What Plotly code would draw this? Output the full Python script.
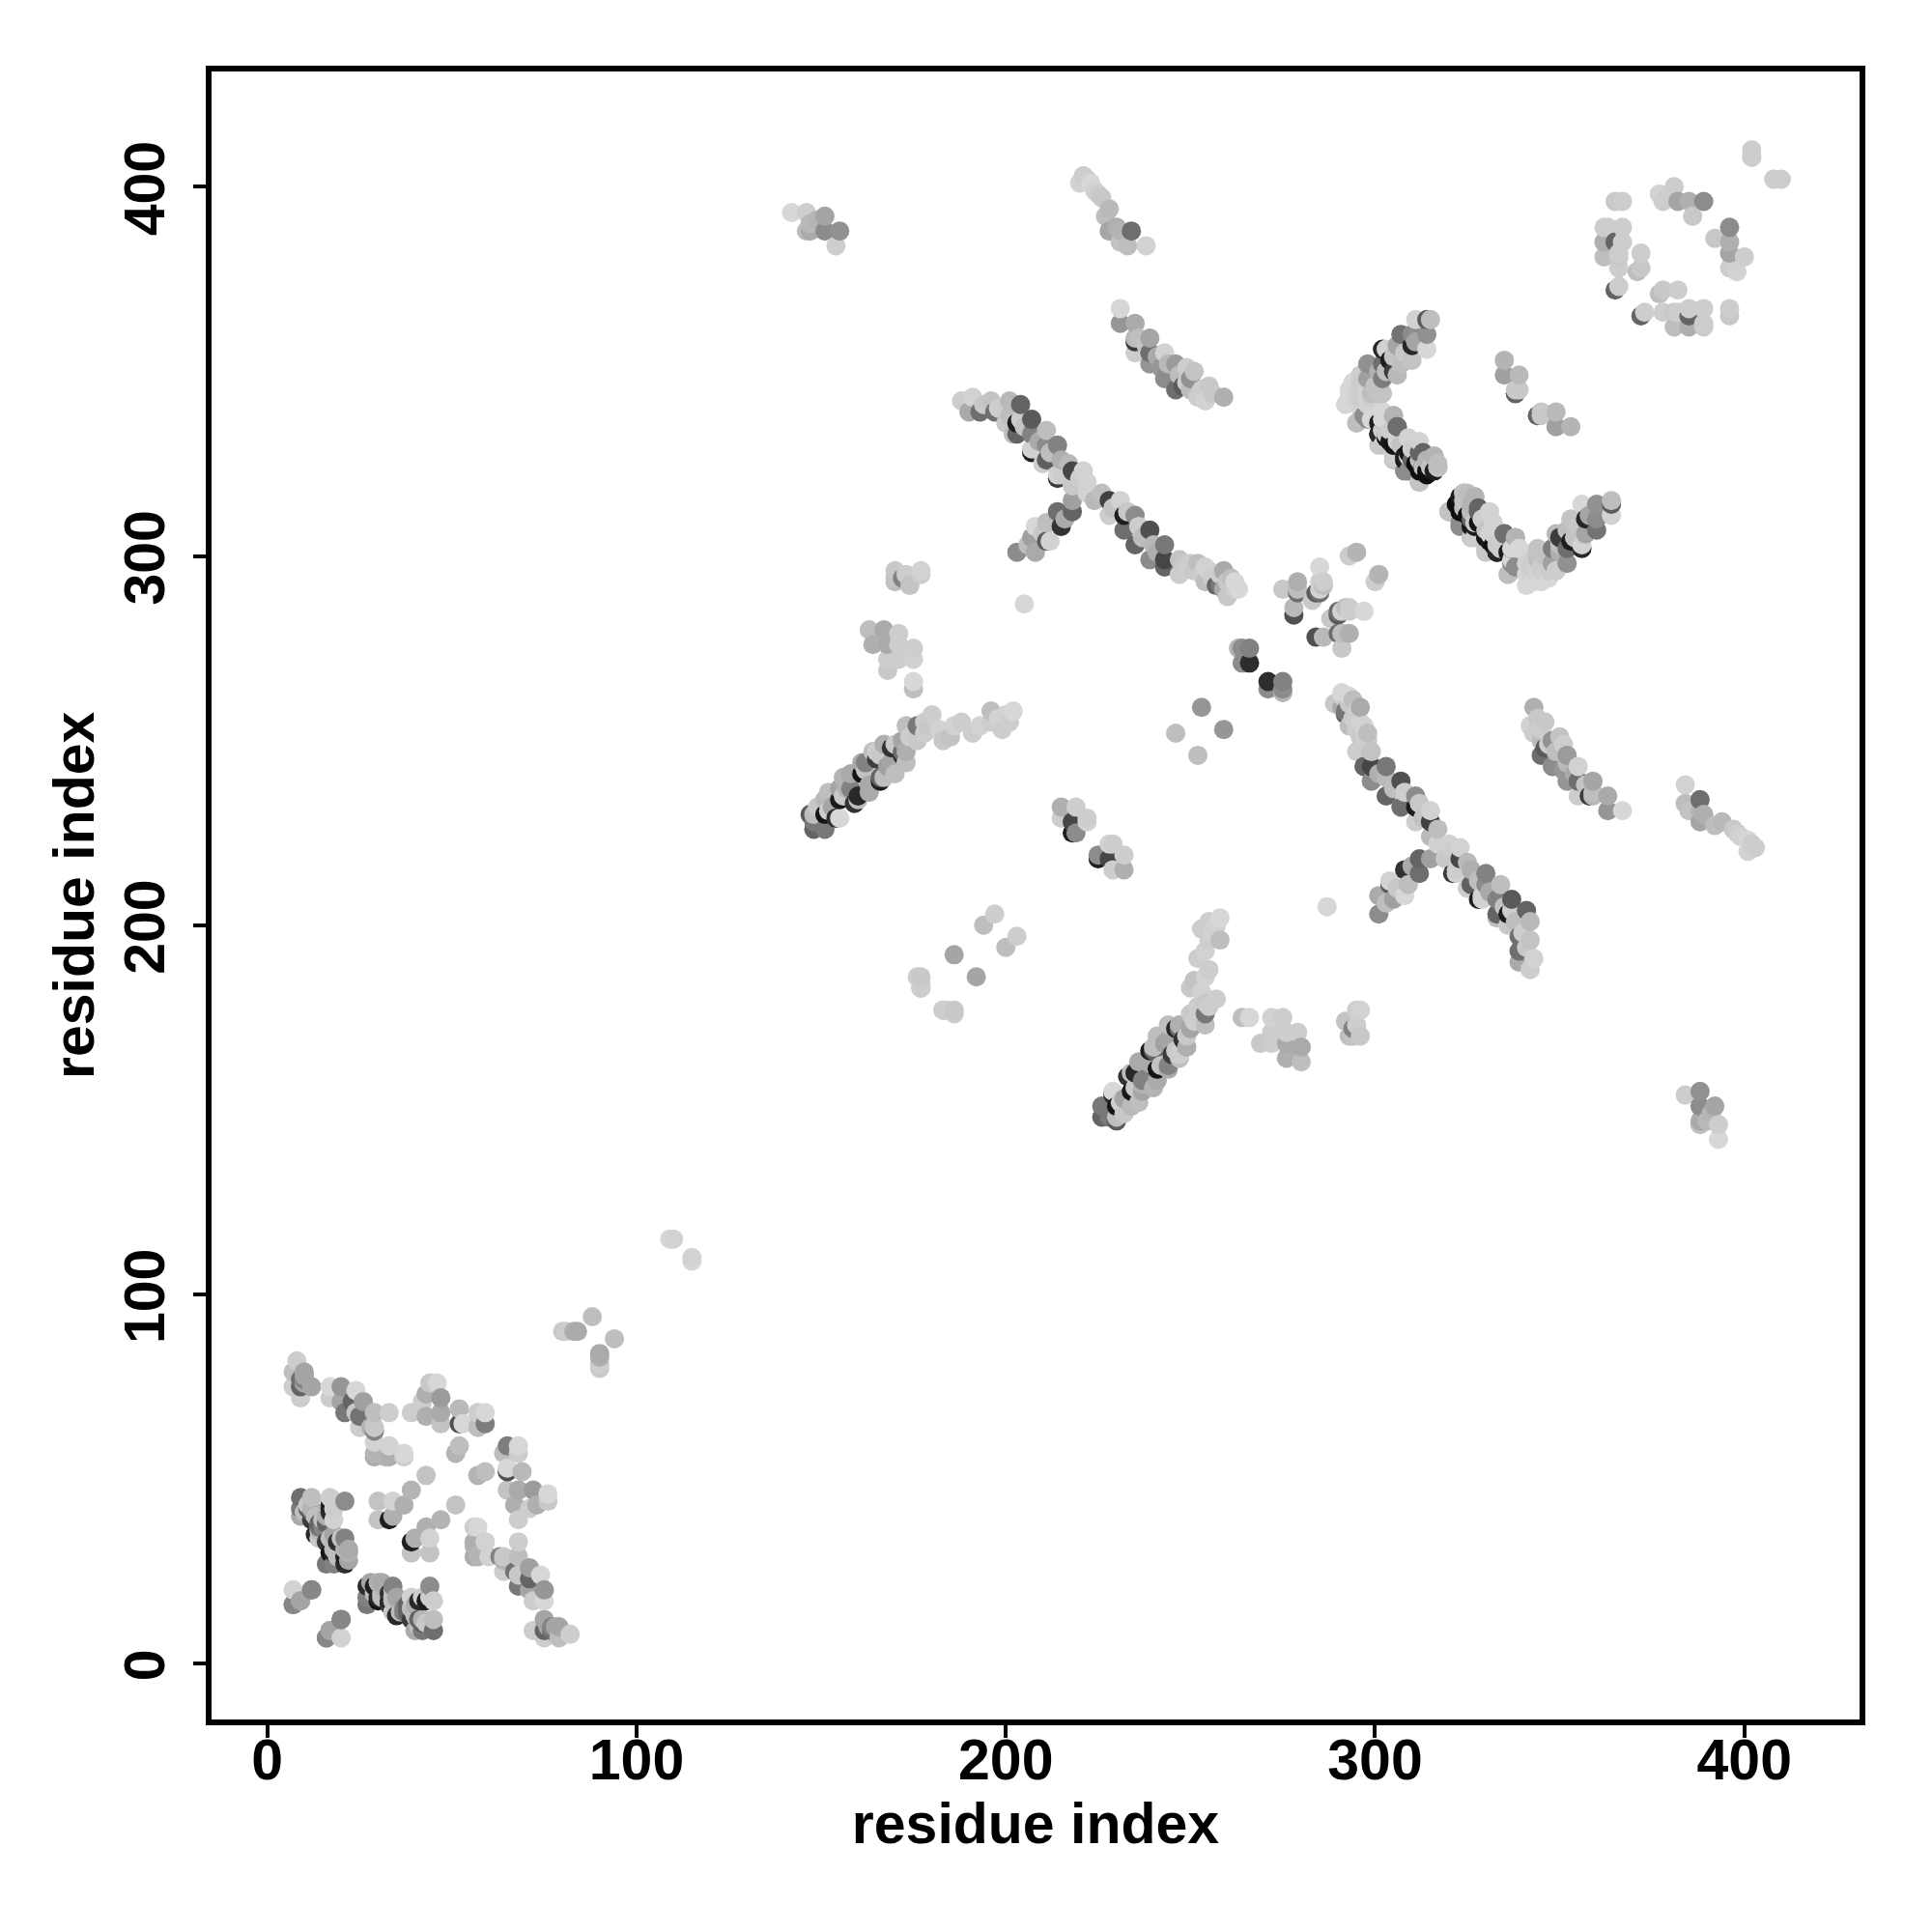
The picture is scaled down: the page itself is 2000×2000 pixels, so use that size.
import plotly.graph_objects as go

# Contacts as (residue a, residue b, grey level); the map is symmetric, each contact shows at (a,b) and (b,a)
block_n_terminal = [
 (8,82,205),(7,79,190),(10,79,165),(9,77,110),(7,75,205),(12,75,165),(9,75,100),(9,72,205),(10,77,130),
 (17,75,215),(17,72,205),(20,75,150),(20,71,165),(21,68,120),(24,74,215),(26,71,160),(23,71,100),(24,68,200),
 (25,67,115),(29,68,190),(33,68,205),(29,64,200),(25,64,205),(29,63,130),(29,60,210),(29,57,180),(33,59,205),
 (29,56,170),(33,56,175),(37,56,205),(39,68,205),(42,71,205),(43,67,175),(44,76,200),(46,76,215),(43,73,175),
 (47,72,155),(47,68,170),(47,65,195),(52,69,185),(52,65,80),(53,65,215),(57,68,205),(59,68,215),(57,64,190),
 (59,65,125),(52,59,190),(51,57,180),(43,51,195),(39,47,180),(37,43,175),(34,44,210),(30,44,195),(30,39,195),
 (33,39,30),(34,40,175),(9,45,110),(12,45,190),(17,45,205),(21,44,140),(9,42,120),(10,41,190),(12,41,100),
 (14,38,100),(17,42,40),(18,39,210),(14,34,200),(13,35,40),(17,34,190),(17,33,40),(21,34,130),(22,31,170),
 (17,30,20),(21,29,30),(18,27,130),(21,27,45),(19,31,190),(11,42,90),(13,40,110),(15,37,130),(16,38,100),
 (7,20,210),(12,20,130),(9,17,155),(7,16,135),(20,12,135),(17,9,165),(16,7,130),(20,7,210),(21,31,180),
 (18,35,165),(16,33,60),(14,37,120),(17,41,40),(17,43,30),(12,39,60),(9,40,170),(37,57,215),(32,56,180),
 (33,59,210),(28,64,180),(16,27,120),(18,30,40),(19,33,50),
]
block_covering = [
 (18,34,190),(18,31,185),(22,30,175),(22,28,165),(13,40,190),(18,42,205),(18,44,205),(14,36,185),(20,34,195),
 (10,76,165),(10,78,165),(15,39,190),(12,42,180),(11,43,200),(16,40,175),(19,29,190),
]
block_linker = [(81,90,205),(83,90,175),(88,94,190),(84,90,170),(80,90,200),(109,115,215),(110,115,210)]
arm_main = [
 (263,291,215),(261,294,190),(259,296,170),(260,289,200),(258,292,120),(254,293,190),(254,297,210),(252,298,190),
 (247,295,205),(247,299,195),(243,297,100),(243,299,70),(243,303,120),(239,299,140),(240,303,185),(239,307,80),
 (235,303,100),(236,308,205),(235,311,140),(232,307,110),(232,311,30),(231,315,210),(228,311,205),(228,315,65),
 (224,315,185),(222,317,210),(222,320,210),(221,323,210),(218,323,70),(218,319,200),(214,322,210),(214,321,60),
 (215,326,175),(214,330,130),(211,326,95),(211,330,140),(211,334,190),(210,325,205),(207,329,210),(207,328,30),
 (207,333,130),(207,337,90),(203,333,100),(202,333,190),(203,336,30),(204,341,100),(201,342,185),(200,336,200),
 (197,339,110),(196,342,195),(193,339,110),(190,339,170),(191,343,210),(188,342,205),
]
arm_main_dense = [
 (255,296,210),(252,297,205),(250,298,205),(259,291,170),(262,293,215),(262,291,205),(257,292,100),(256,294,205),
 (253,295,205),(251,296,200),(249,297,205),(260,293,200),(258,295,205),(248,298,200),(233,312,200),(204,337,205),
 (208,329,210),(215,322,205),(212,328,190),(205,335,195),(201,338,190),(198,340,205),(194,341,200),(237,305,190),
 (241,301,175),(229,313,195),(226,317,190),(220,321,205),(217,325,185),(209,331,170),
]
arm_branch = [
 (203,301,140),(208,301,170),(207,305,160),(212,304,210),(211,304,90),(208,308,215),(215,308,50),(211,309,190),
 (218,312,100),(214,312,110),(218,315,160),(206,303,190),(210,306,200),(216,310,170),
]
arm_second = [
 (259,343,175),(254,342,210),(253,345,205),(250,348,145),(249,351,205),(250,345,190),(246,345,110),(246,352,155),
 (243,348,140),(243,355,210),(242,351,150),(239,355,110),(239,352,150),(239,359,165),(235,355,205),(235,358,60),
 (235,359,185),(235,363,170),(231,363,150),(231,367,215),(256,344,200),(248,346,90),(236,359,190),(249,347,205),
 (252,343,205),(255,346,200),(251,350,195),(247,349,190),(244,352,185),(241,354,170),(238,357,195),
]
hairpin_upper = [
 (311,364,210),(314,364,90),(315,364,190),(307,360,115),(310,360,140),(314,360,145),(314,356,215),(310,357,40),
 (306,357,165),(302,356,40),(303,356,210),(302,352,110),(298,352,145),(307,352,190),(310,353,195),(306,349,185),
 (302,348,125),(298,348,160),(296,349,205),(302,344,195),(299,344,190),(297,345,205),(293,343,215),(295,341,215),
 (299,343,205),(304,353,30),(305,350,60),(311,358,165),(305,354,195),(293,345,215),(294,347,215),(295,344,210),
 (296,343,205),(294,342,215),(292,341,215),(297,342,205),(298,344,210),(296,347,205),(300,346,195),(303,350,190),
 (308,355,200),(301,350,175),
]
hairpin_lower = [
 (297,338,140),(301,336,30),(302,339,215),(305,338,180),(301,333,30),(303,332,15),(306,335,110),(302,330,200),
 (304,331,25),(305,330,15),(305,327,205),(309,332,210),(312,331,210),(308,327,30),(309,328,20),(308,323,140),
 (312,328,100),(311,325,15),(316,327,180),(313,324,20),(314,323,15),(317,324,195),(316,323,30),(312,320,195),
 (295,336,190),(299,337,215),(302,337,215),(304,334,205),(306,332,210),(310,329,205),(312,326,190),(315,324,195),
 (317,325,190),(303,333,200),(307,330,195),(310,326,100),(314,326,180),
]
hairpin_far = [
 (317,324,185),(314,322,15),(316,327,175),(312,320,190),(312,323,15),(313,328,100),(309,323,140),(308,326,25),
 (312,331,210),(309,332,210),(305,330,20),(305,326,200),(301,330,200),(306,335,90),(305,338,170),(301,333,40),
 (302,339,210),(302,337,30),(298,337,140),(296,337,190),(298,341,210),(295,342,210),(293,343,215),(301,344,195),
 (296,345,205),(306,331,210),(302,334,205),(309,327,200),(313,324,190),
]
segment_short = [(335,353,180),(335,349,160),(339,349,185),(338,344,90),(339,345,200),(344,338,100),(338,345,200)]
cluster_middle = [
 (295,301,180),(293,300,205),(266,275,130),(264,275,140),(266,271,45),(264,271,140),(263,275,180),(275,291,200),
 (279,293,175),(279,290,110),(278,286,185),(278,284,80),(285,297,215),(286,293,205),(285,290,110),(284,290,90),
 (285,291,210),(285,293,205),(283,288,200),(253,259,150),(246,252,190),(287,205,215),(279,291,190),(286,292,190),
]
arm_third = [
 (202,258,215),(201,255,205),(196,255,205),(196,258,190),(191,252,205),(185,251,195),(186,254,210),(180,257,205),
 (179,254,200),(176,250,200),(176,254,120),(173,254,190),(172,250,165),(173,244,190),(172,247,110),(172,246,40),
 (169,248,50),(169,244,165),(165,247,205),(165,245,60),(166,240,100),(166,239,30),(162,244,130),(161,241,20),
 (163,236,170),(158,241,170),(158,237,130),(160,235,40),(159,233,50),(155,237,165),(155,234,25),(155,229,215),
 (151,234,185),(151,230,20),(151,226,120),(148,230,190),(148,226,100),(147,230,90),(154,229,45),(148,228,120),
 (152,231,205),(156,235,200),(160,234,190),(162,242,195),(167,240,190),(173,247,175),(166,246,200),(153,232,165),
 (157,237,180),(163,238,170),(168,243,160),(170,241,190),(149,232,200),(152,236,190),(156,240,180),(161,244,170),
 (164,247,190),(167,249,175),(170,249,200),(174,251,205),(178,252,205),(182,253,210),(188,255,205),(193,254,210),
 (198,256,210),(199,253,205),(200,257,210),(183,250,200),(178,255,205),
]
cluster_side = [
 (175,264,190),(175,266,215),(175,272,210),(171,272,205),(168,272,205),(168,269,200),(175,275,205),(171,276,205),
 (171,279,205),(168,276,170),(164,276,175),(167,280,170),(163,280,190),(170,293,190),(170,296,200),(174,292,195),
 (177,295,205),(177,296,210),(172,294,130),(170,294,195),(173,295,205),
]
cluster_beta = [
 (177,184,205),(177,183,190),(176,186,205),(186,192,165),(177,186,200),(194,200,190),(197,203,205),(183,177,205),
]
cluster_near = [
 (215,232,175),(219,232,205),(215,229,205),(218,228,70),(222,229,205),(219,225,140),(218,225,30),(222,228,210),
]
cluster_top = [
 (142,393,215),(146,393,205),(146,388,190),(151,392,165),(147,388,170),(151,388,140),(155,388,145),(154,384,205),
 (147,390,185),(149,391,180),
]
arm_top = [
 (238,384,210),(233,384,190),(234,388,110),(230,389,175),(228,388,165),(227,392,190),(226,397,200),(224,399,210),
 (221,403,205),(220,401,210),(223,401,215),(231,385,195),(222,402,205),(225,398,205),(228,394,185),(231,388,180),
]
ring_corner = [
 (402,410,205),(402,408,200),(408,402,205),(410,402,205),(365,396,200),(367,396,205),(377,398,210),(381,400,205),
 (378,396,205),(382,396,165),(385,396,175),(389,396,140),(386,392,200),(363,389,205),(367,389,205),(362,385,175),
 (367,385,205),(365,385,100),(362,381,190),(366,381,200),(366,378,205),(372,382,205),(372,378,200),(371,377,190),
 (366,373,205),(365,372,100),(362,389,205),(366,382,205),
]

blocks = [block_n_terminal, block_covering, block_linker, arm_main, arm_main_dense, arm_branch, arm_second,
          hairpin_upper, hairpin_lower, hairpin_far, segment_short, cluster_middle, arm_third, cluster_side,
          cluster_beta, cluster_near, cluster_top, arm_top, ring_corner]
tick_values = [0, 100, 200, 300, 400]
axis_label = "residue index"

pts = set()
for block in blocks:
    for a, b, s in block:
        pts.add((a, b, s))
        pts.add((b, a, s))
pts = sorted(pts)
xs = [p[0] for p in pts]
ys = [p[1] for p in pts]
cols = [f"rgb({p[2]},{p[2]},{p[2]})" for p in pts]

FONT = dict(family="Liberation Sans", size=59, color="black", weight="bold")
fig = go.Figure(go.Scatter(x=xs, y=ys, mode="markers", cliponaxis=True,
                           marker=dict(size=20, color=cols, line=dict(width=0))))
axis = dict(range=[-15.1, 431.2], tickvals=tick_values, ticktext=[str(t) for t in tick_values],
            showgrid=False, zeroline=False, showline=True, mirror=True, linecolor="black", linewidth=6,
            ticks="outside", ticklen=13, tickwidth=4, tickcolor="black", tickfont=FONT)
fig.update_xaxes(**axis, ticklabelstandoff=-28, title=dict(text=axis_label, font=FONT, standoff=7))
fig.update_yaxes(**axis, showticklabels=False)
for t in tick_values:
    fig.add_annotation(x=0, xref="paper", y=t, yref="y", text=str(t), textangle=-90, showarrow=False,
                       xanchor="center", yanchor="middle", xshift=-69, yshift=-2, font=FONT)
fig.add_annotation(x=0, xref="paper", y=0.5, yref="paper", text=axis_label, textangle=-90, showarrow=False,
                   xanchor="center", yanchor="middle", xshift=-142, font=FONT)
fig.update_layout(width=2000, height=2000, autosize=False, plot_bgcolor="white", paper_bgcolor="white",
                  margin=dict(l=211, r=83, t=66, b=228, autoexpand=False), showlegend=False)
fig.write_html("out.html")
